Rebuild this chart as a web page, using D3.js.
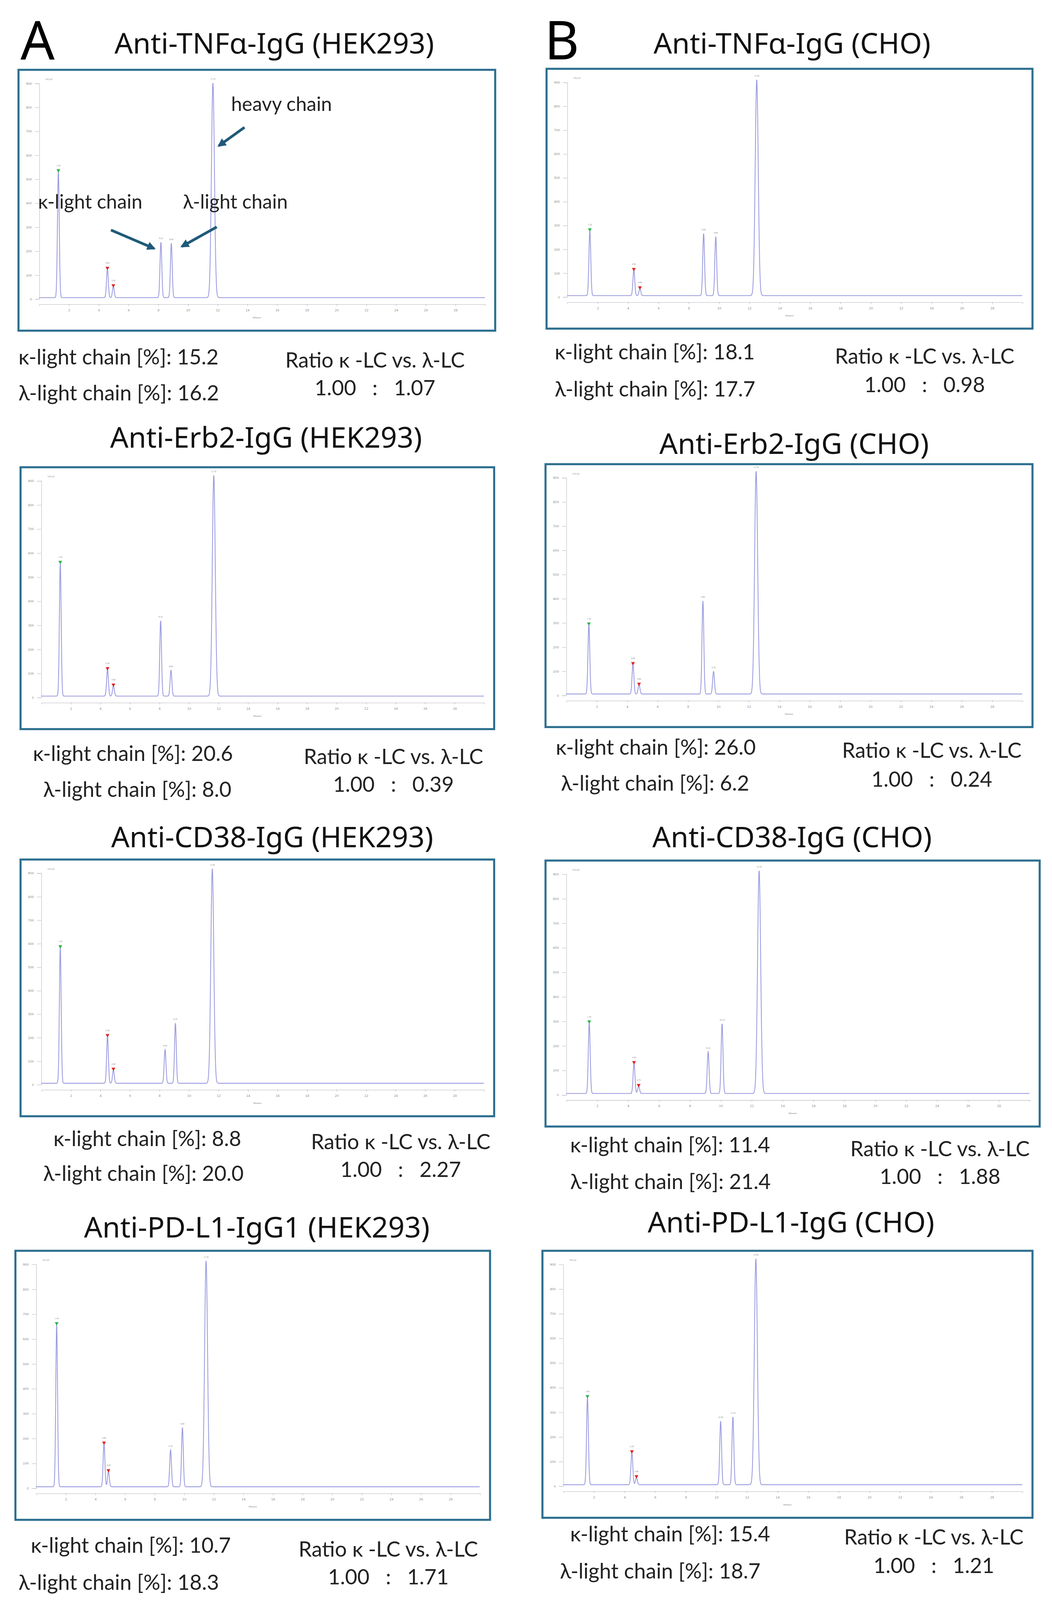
<!DOCTYPE html>
<html>
<head>
<meta charset="utf-8">
<script src="https://cdn.jsdelivr.net/npm/d3@7"></script>
<style>
  body { margin: 0; background: #fff; }
  svg { display: block; }
</style>
</head>
<body>
<div id="chart"></div>
<script>
// layout is written in reference-display units (1024 wide) and scaled up
const S = 2692 / 1024;

// panel titles
const titles = [
  "Anti-TNFα-IgG (HEK293)", "Anti-TNFα-IgG (CHO)",
  "Anti-Erb2-IgG (HEK293)", "Anti-Erb2-IgG (CHO)",
  "Anti-CD38-IgG (HEK293)", "Anti-CD38-IgG (CHO)",
  "Anti-PD-L1-IgG1 (HEK293)", "Anti-PD-L1-IgG (CHO)"
];
// peak order: marker green, marker red 1, marker red 2, κ-LC, λ-LC, heavy chain
const peakTimes = [
  [1.3, 4.6, 5.0, 8.2, 8.9, 11.7],
  [1.5, 4.4, 4.8, 9.0, 9.8, 12.5],
  [1.3, 4.5, 4.9, 8.1, 8.8, 11.7],
  [1.5, 4.4, 4.8, 9.0, 9.7, 12.5],
  [1.3, 4.5, 4.9, 8.4, 9.1, 11.6],
  [1.5, 4.4, 4.7, 9.2, 10.1, 12.5],
  [1.4, 4.6, 4.9, 9.1, 9.9, 11.5],
  [1.6, 4.5, 4.8, 10.3, 11.1, 12.6]
];
const peakHeights = [
  [527, 120, 47, 231, 227, 896],
  [273, 107, 30, 260, 247, 905],
  [553, 111, 43, 313, 107, 917],
  [287, 123, 38, 385, 93, 921],
  [578, 200, 57, 143, 256, 913],
  [289, 123, 30, 170, 284, 908],
  [653, 173, 62, 148, 238, 908],
  [355, 131, 30, 258, 275, 917]
];
const kappaPct = ["15.2", "18.1", "20.6", "26.0", "8.8", "11.4", "10.7", "15.4"];
const lambdaPct = ["16.2", "17.7", "8.0", "6.2", "20.0", "21.4", "18.3", "18.7"];
const ratioVals = ["1.07", "0.98", "0.39", "0.24", "2.27", "1.88", "1.71", "1.21"];
const yTicks = [0, 100, 200, 300, 400, 500, 600, 700, 800, 900];
const xTicks = [2, 4, 6, 8, 10, 12, 14, 16, 18, 20, 22, 24, 26, 28];

// placement (display units)
const boxes = [
  [18, 68, 482, 322], [532, 67, 1005, 320],
  [20, 455, 481, 710], [531, 452, 1005, 708],
  [20, 837, 481, 1087], [531, 838, 1012, 1097],
  [15, 1218, 477, 1480], [528, 1218, 1005, 1478]
];
const titlePos = [[267, 52], [771, 52], [259, 436], [773, 442], [265, 825], [771, 825], [250, 1205], [770, 1200]];
const statPos = [ // kx, ky, lx, ly, rx, ry, vy
  [18, 355, 18, 390, 365, 358, 385],
  [540, 350, 540, 386, 900, 354, 382],
  [32, 741, 42, 776, 383, 744, 771],
  [541, 735, 546, 770, 907, 738, 766],
  [52, 1116, 42, 1150, 390, 1119, 1146],
  [555, 1122, 555, 1158, 915, 1126, 1153],
  [30, 1512, 18, 1548, 378, 1516, 1543],
  [555, 1501, 545, 1537, 909, 1504, 1532]
];

const svg = d3.select("#chart").append("svg")
  .attr("width", 2692).attr("height", 4111);
const root = svg.append("g").attr("transform", `scale(${S})`);

svg.append("defs").append("marker")
  .attr("id", "arr").attr("viewBox", "0 0 10 10")
  .attr("refX", 8).attr("refY", 5)
  .attr("markerWidth", 3.2).attr("markerHeight", 3.2)
  .attr("orient", "auto")
  .append("path").attr("d", "M0,0 L10,5 L0,10 Z").attr("fill", "#1f5a7a");

root.append("text").attr("x", 20).attr("y", 58).text("A")
  .attr("font-family", "Noto Sans").attr("font-size", 52).attr("fill", "#000");
root.append("text").attr("x", 530).attr("y", 58).text("B")
  .attr("font-family", "Noto Sans").attr("font-size", 52).attr("fill", "#000");

boxes.forEach((b, i) => {
  const [x0, y0, x1, y1] = b;
  const g = root.append("g");

  g.append("text").attr("x", titlePos[i][0]).attr("y", titlePos[i][1])
    .attr("text-anchor", "middle").attr("font-family", "Noto Sans")
    .attr("font-size", 28).attr("fill", "#111").text(titles[i]);

  g.append("rect").attr("x", x0).attr("y", y0)
    .attr("width", x1 - x0).attr("height", y1 - y0)
    .attr("fill", "#fff").attr("stroke", "#2d6f90").attr("stroke-width", 2);

  const x = d3.scaleLinear().domain([0, 30]).range([x0 + 20, x1 - 10]);
  const y = d3.scaleLinear().domain([0, 900]).range([y1 - 31, y0 + 13]);

  const ax = g.append("g").attr("transform", `translate(${x0 + 20},0)`)
    .call(d3.axisLeft(y).tickValues(yTicks).tickSize(4).tickFormat(d3.format("d")));
  const bx = g.append("g").attr("transform", `translate(0,${y1 - 26})`)
    .call(d3.axisBottom(x).tickValues(xTicks).tickSize(2).tickFormat(d3.format("d")));
  [ax, bx].forEach(a => {
    a.selectAll("path,line").attr("stroke", "#b8b8c0").attr("stroke-width", 0.4);
    a.selectAll("text").attr("font-size", 3).attr("fill", "#888").attr("font-family", "DejaVu Sans");
  });
  g.append("text").attr("x", (x0 + x1) / 2).attr("y", y1 - 12).attr("text-anchor", "middle")
    .attr("font-size", 2.5).attr("fill", "#888").text("Minutes");
  g.append("text").attr("x", x0 + 26).attr("y", y0 + 10)
    .attr("font-size", 2.5).attr("fill", "#999").text("TPGM");

  // trace: sum of peaks sampled along time
  const pk = peakTimes[i].map((t, j) => ({ t, h: peakHeights[i][j], w: j === 5 ? 0.1 : 0.06 }));
  const ts = d3.range(0, 30.001, 0.01);
  const trace = ts.map(t => [t, 5 + d3.sum(pk, p => p.h * Math.exp(-0.5 * ((t - p.t) / p.w) ** 2))]);
  g.append("path").datum(trace)
    .attr("d", d3.line().x(d => x(d[0])).y(d => y(d[1])))
    .attr("fill", "none").attr("stroke", "#9c9ce0").attr("stroke-width", 0.8);

  pk.forEach((p, j) => {
    g.append("text").attr("x", x(p.t)).attr("y", y(p.h + 5) - (j < 3 ? 5 : 3))
      .attr("text-anchor", "middle").attr("font-size", 2.2).attr("fill", "#888")
      .text(p.t.toFixed(2));
    if (j < 3) {
      g.append("path")
        .attr("d", d3.symbol(d3.symbolTriangle, 6)())
        .attr("transform", `translate(${x(p.t)},${y(p.h + 5) - 1}) rotate(180)`)
        .attr("fill", j === 0 ? "#2bb24c" : "#e02020");
    }
  });

  if (i === 0) {
    const lab = (t, lx, ly) => g.append("text").attr("x", lx).attr("y", ly)
      .attr("font-family", "Lato").attr("font-size", 19).attr("fill", "#222").text(t);
    lab("heavy chain", 225, 108);
    lab("κ-light chain", 37, 203);
    lab("λ-light chain", 178, 203);
    const arrow = (ax0, ay0, ax1, ay1) => g.append("line")
      .attr("x1", ax0).attr("y1", ay0).attr("x2", ax1).attr("y2", ay1)
      .attr("stroke", "#1f5a7a").attr("stroke-width", 2.6).attr("marker-end", "url(#arr)");
    arrow(238, 124, 213, 142);
    arrow(108, 224, 150, 242);
    arrow(211, 221, 177, 240);
  }

  const sp = statPos[i];
  const st = (t, tx, ty, anchor) => g.append("text").attr("x", tx).attr("y", ty)
    .attr("text-anchor", anchor).attr("font-family", "Lato").attr("font-size", 20.5)
    .attr("fill", "#222").attr("xml:space", "preserve").text(t);
  st(`κ-light chain [%]: ${kappaPct[i]}`, sp[0], sp[1], "start");
  st(`λ-light chain [%]: ${lambdaPct[i]}`, sp[2], sp[3], "start");
  st("Ratio κ -LC vs. λ-LC", sp[4], sp[5], "middle");
  st(`1.00   :   ${ratioVals[i]}`, sp[4], sp[6], "middle");
});
</script>
</body>
</html>
